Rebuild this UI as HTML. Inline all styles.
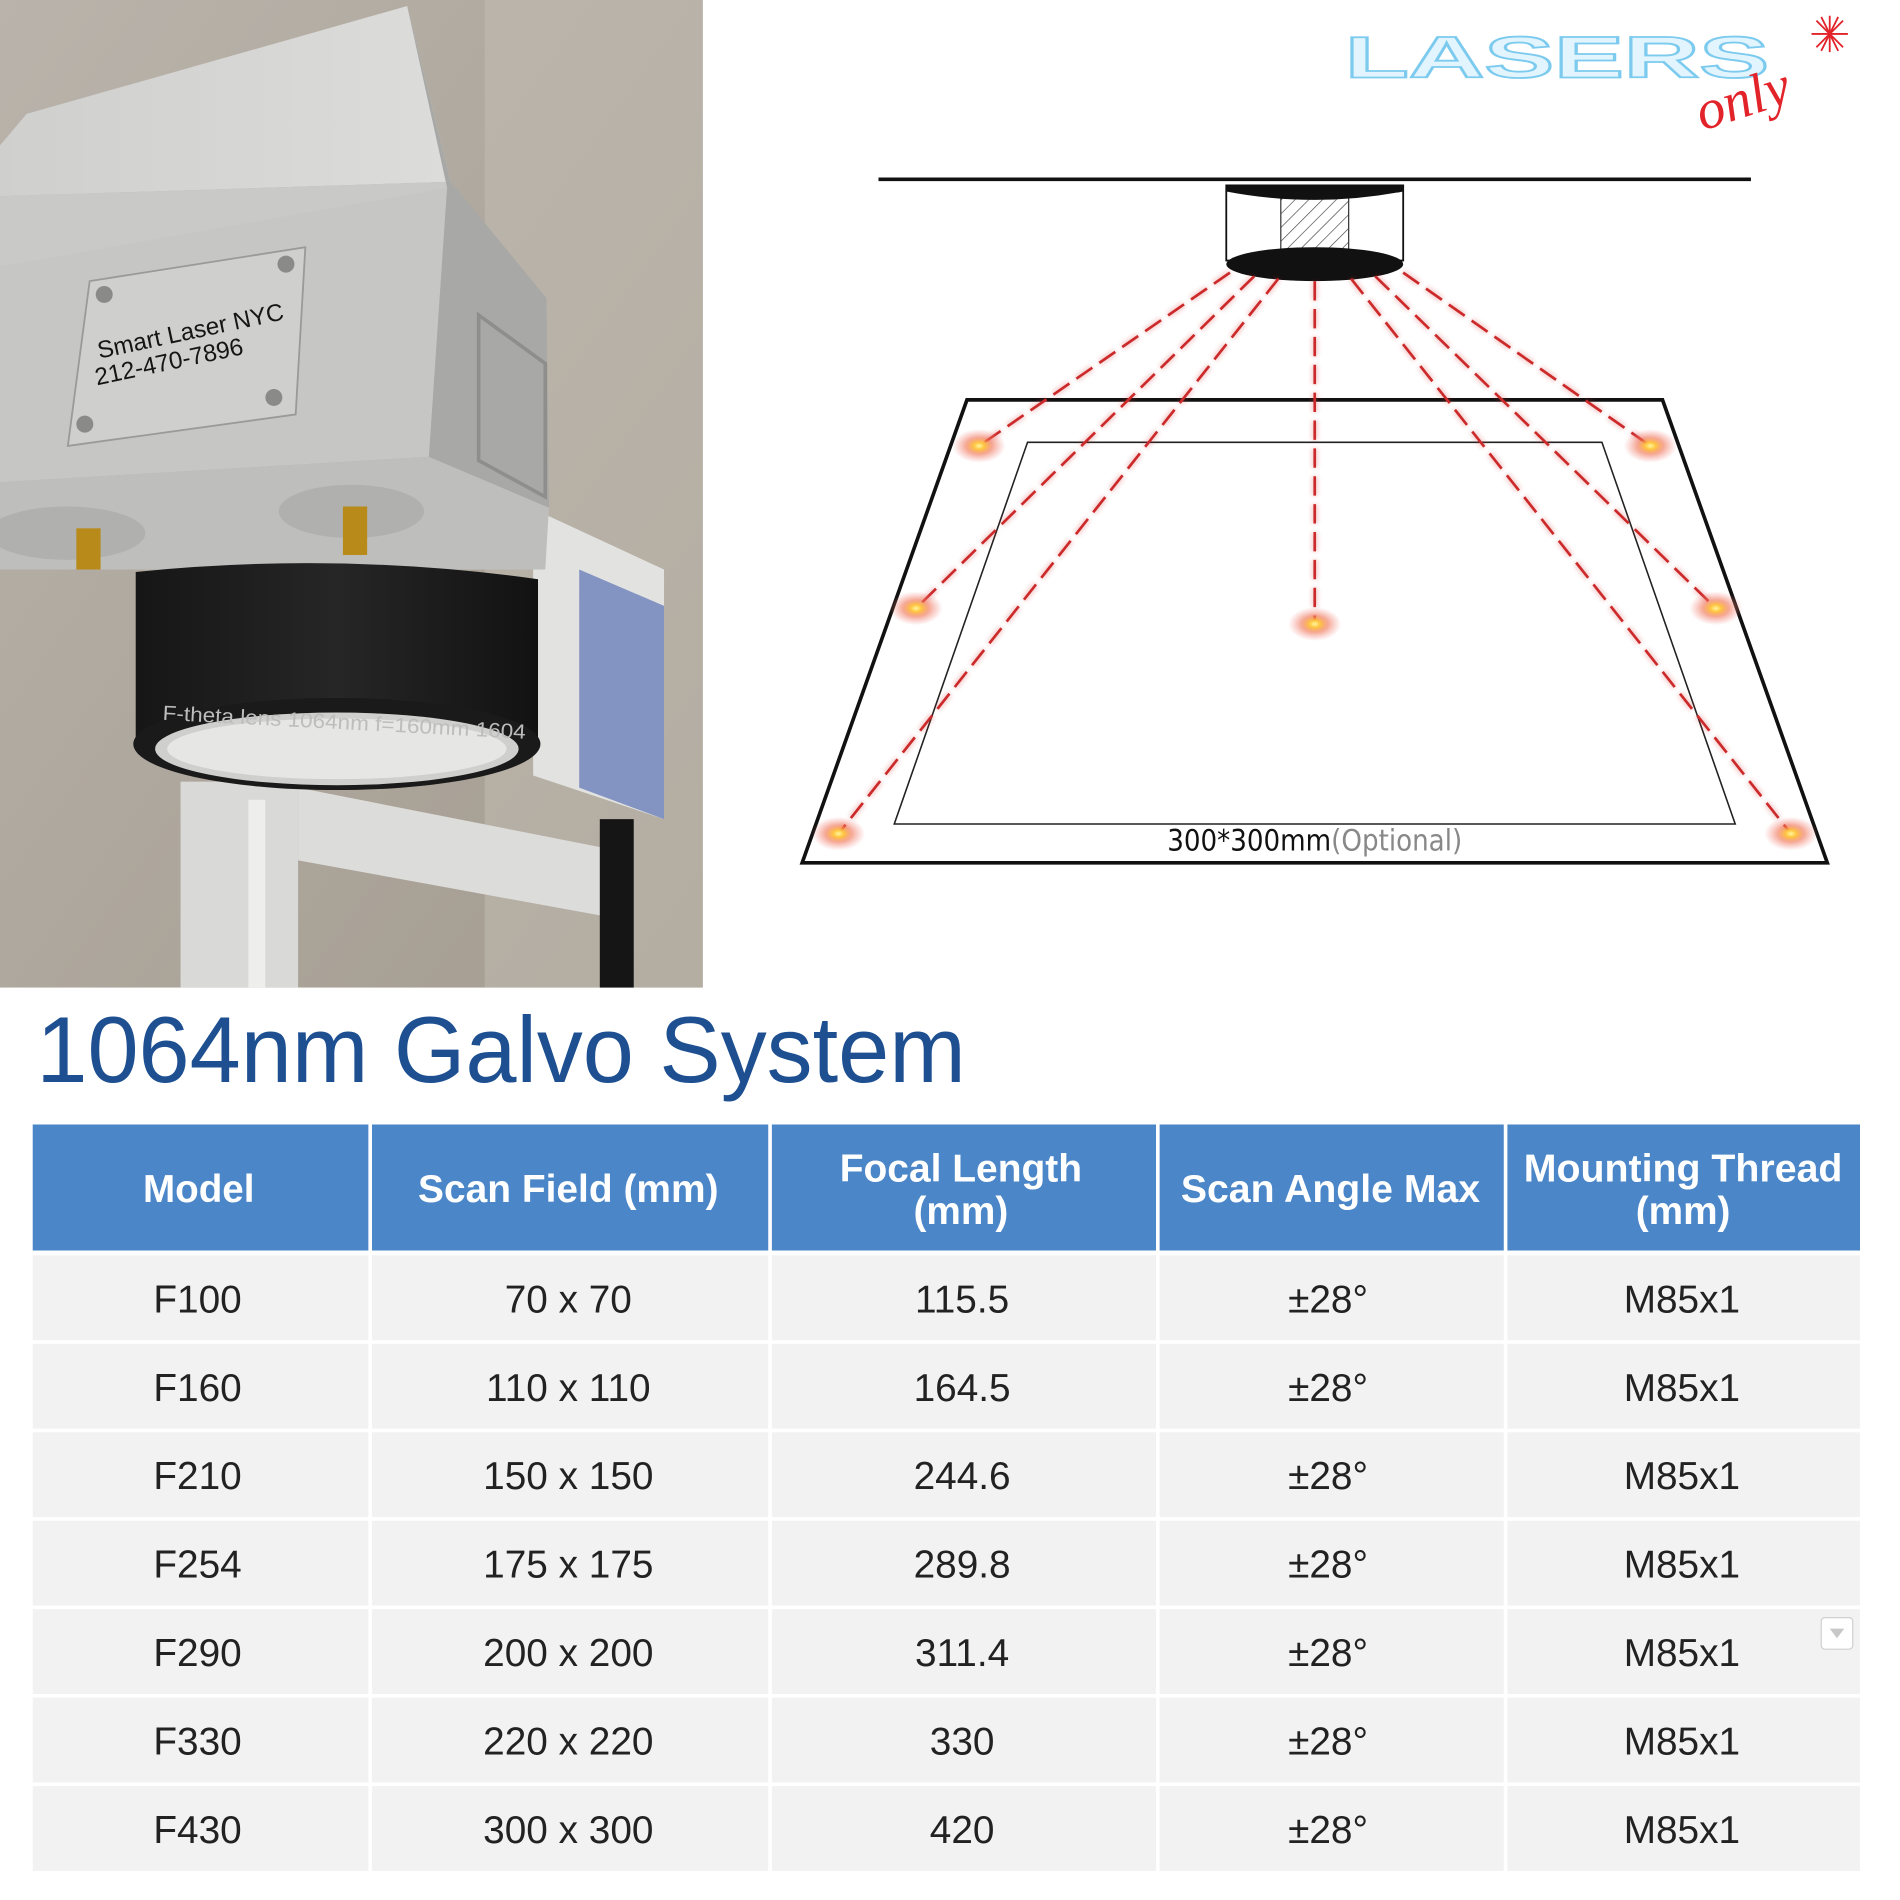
<!DOCTYPE html>
<html><head><meta charset="utf-8"><style>
html,body{margin:0;padding:0;background:#fff;}
svg{display:block;}
</style></head><body>
<svg width="1900" height="1900" viewBox="0 0 1568 1568" xmlns="http://www.w3.org/2000/svg" font-family="Liberation Sans, sans-serif">
<defs>
<linearGradient id="wall" x1="0" y1="0" x2="1" y2="1"><stop offset="0" stop-color="#b9b3ab"/><stop offset="1" stop-color="#a49c90"/></linearGradient>
<linearGradient id="lid" x1="0" y1="0" x2="1" y2="0"><stop offset="0" stop-color="#cfcfcd"/><stop offset="1" stop-color="#dcdcda"/></linearGradient>
<linearGradient id="lens" x1="0" y1="0" x2="1" y2="0"><stop offset="0" stop-color="#161616"/><stop offset="0.5" stop-color="#262626"/><stop offset="1" stop-color="#121212"/></linearGradient>
<radialGradient id="spot"><stop offset="0" stop-color="#fff7a0"/><stop offset="0.2" stop-color="#ffc640"/><stop offset="0.5" stop-color="#f07050" stop-opacity="0.6"/><stop offset="1" stop-color="#f08080" stop-opacity="0"/></radialGradient>
<pattern id="hatch" width="8" height="8" patternUnits="userSpaceOnUse" patternTransform="rotate(45)"><line x1="0" y1="0" x2="0" y2="8" stroke="#333" stroke-width="1"/></pattern>
<filter id="blur"><feGaussianBlur stdDeviation="2"/></filter>
</defs>

<rect x="0" y="0" width="580" height="815" fill="url(#wall)"/>
<rect x="400" y="0" width="180" height="815" fill="#c3bdb4" opacity="0.5"/>
<polygon points="149,645 246,645 246,815 149,815" fill="#d9d9d7"/>
<rect x="205" y="660" width="14" height="155" fill="#eeeeec"/>
<polygon points="246,650 500,700 520,760 246,710" fill="#dcdcda"/>
<polygon points="440,420 548,470 548,676 440,640" fill="#e2e2e0"/>
<polygon points="478,470 548,500 548,676 478,650" fill="#8393c2"/>
<rect x="495" y="676" width="28" height="139" fill="#151515"/>
<polygon points="22,94 336,5 372,150 0,162 0,120" fill="url(#lid)"/>
<polygon points="0,220 0,162 372,150 369,160" fill="#c9c9c7"/>
<polygon points="0,220 369,155 354,377 0,398" fill="#c6c6c4"/>
<polygon points="336,5 372,150 451,246 453,419 354,377 369,155" fill="#a8a8a6"/>
<polygon points="395,260 450,300 450,410 395,380" fill="none" stroke="#8e8e8c" stroke-width="3"/>
<polygon points="0,398 354,377 453,419 450,470 0,470" fill="#bebebc"/>
<ellipse cx="55" cy="440" rx="65" ry="22" fill="#b0b0ae"/>
<ellipse cx="290" cy="422" rx="60" ry="22" fill="#b0b0ae"/>
<rect x="63" y="436" width="20" height="34" fill="#b88a1a"/>
<rect x="283" y="418" width="20" height="40" fill="#b88a1a"/>
<polygon points="74,232 252,204 244,342 56,368" fill="#cfcfcd" stroke="#9a9a98" stroke-width="1.5"/>
<circle cx="86" cy="243" r="7" fill="#8a8a88"/><circle cx="236" cy="218" r="7" fill="#8a8a88"/>
<circle cx="70" cy="350" r="7" fill="#8a8a88"/><circle cx="226" cy="328" r="7" fill="#8a8a88"/>
<text x="82" y="296" font-size="20" fill="#151515" transform="rotate(-12 82 296)">Smart Laser NYC</text>
<text x="80" y="318" font-size="20" fill="#151515" transform="rotate(-12 80 318)">212-470-7896</text>
<path d="M112,472 Q280,455 444,478 L444,612 L112,612 Z" fill="url(#lens)"/>
<ellipse cx="278" cy="614" rx="168" ry="38" fill="#1a1a1a"/>
<ellipse cx="278" cy="618" rx="150" ry="30" fill="#cfcfcd"/>
<ellipse cx="278" cy="618" rx="140" ry="25" fill="#e6e6e4"/>
<text x="134" y="594" font-size="17" fill="#bdbdbd" transform="rotate(3 134 594)" textLength="300" lengthAdjust="spacingAndGlyphs">F-theta  lens 1064nm  f=160mm 1604</text>

<text x="1110" y="64" font-size="48" font-weight="bold" fill="#e2f4fd" stroke="#7ccbef" stroke-width="1.5" textLength="350" lengthAdjust="spacingAndGlyphs">LASERS</text>
<text x="1405" y="108" font-size="46" font-style="italic" font-family="Liberation Serif, serif" fill="#e2232a" transform="rotate(-18 1405 108)">only</text>
<g stroke="#e2232a" stroke-width="1.5">
<line x1="1495" y1="28" x2="1525" y2="28"/><line x1="1510" y1="13" x2="1510" y2="43"/>
<line x1="1499" y1="17" x2="1521" y2="39"/><line x1="1521" y1="17" x2="1499" y2="39"/>
<line x1="1503" y1="14" x2="1517" y2="42"/><line x1="1517" y1="14" x2="1503" y2="42"/>
</g>

<line x1="725" y1="148" x2="1445" y2="148" stroke="#111" stroke-width="3"/>
<polygon points="798,330 1372,330 1508,712 662,712" fill="none" stroke="#111" stroke-width="3"/>
<polygon points="848,365 1322,365 1432,680 738,680" fill="none" stroke="#222" stroke-width="1.3"/>
<rect x="1012" y="153" width="146" height="62" fill="#fff" stroke="#111" stroke-width="1.5"/>
<rect x="1057" y="163" width="56" height="46" fill="url(#hatch)" stroke="#333" stroke-width="1"/>
<path d="M1012,153 L1158,153 L1158,158 Q1085,172 1012,158 Z" fill="#111"/>
<ellipse cx="1085" cy="218" rx="73" ry="14" fill="#111"/>
<g stroke="#d93030" stroke-width="5" opacity="0.25" filter="url(#blur)" stroke-dasharray="16 7">
<line x1="1015" y1="225" x2="808" y2="368"/><line x1="1035" y1="228" x2="756" y2="502"/><line x1="1055" y1="230" x2="692" y2="688"/>
<line x1="1085" y1="232" x2="1085" y2="515"/>
<line x1="1158" y1="225" x2="1362" y2="368"/><line x1="1135" y1="228" x2="1416" y2="502"/><line x1="1115" y1="230" x2="1478" y2="688"/>
</g>
<g stroke="#cc2a2a" stroke-width="2.2" stroke-dasharray="16 7">
<line x1="1015" y1="225" x2="808" y2="368"/><line x1="1035" y1="228" x2="756" y2="502"/><line x1="1055" y1="230" x2="692" y2="688"/>
<line x1="1085" y1="232" x2="1085" y2="515"/>
<line x1="1158" y1="225" x2="1362" y2="368"/><line x1="1135" y1="228" x2="1416" y2="502"/><line x1="1115" y1="230" x2="1478" y2="688"/>
</g>
<g fill="url(#spot)">
<ellipse cx="808" cy="368" rx="22" ry="14"/><ellipse cx="1362" cy="368" rx="22" ry="14"/>
<ellipse cx="756" cy="502" rx="22" ry="14"/><ellipse cx="1416" cy="502" rx="22" ry="14"/>
<ellipse cx="1085" cy="515" rx="22" ry="14"/><ellipse cx="692" cy="688" rx="22" ry="14"/><ellipse cx="1478" cy="688" rx="22" ry="14"/>
</g>
<text x="1085" y="702" font-size="24" text-anchor="middle" fill="#111" font-family="DejaVu Sans Condensed, Liberation Sans, sans-serif">300*300mm<tspan fill="#888">(Optional)</tspan></text>

<text x="30" y="893" font-size="77" fill="#1d4f91" textLength="767" lengthAdjust="spacingAndGlyphs">1064nm Galvo System</text>

<g fill="#4a86c8">
<rect x="27" y="928" width="277" height="104"/><rect x="307" y="928" width="327" height="104"/>
<rect x="637" y="928" width="317" height="104"/><rect x="957" y="928" width="284" height="104"/>
<rect x="1244" y="928" width="291" height="104"/>
</g>
<g fill="#fff" font-weight="bold" font-size="32" text-anchor="middle">
<text x="164" y="992" textLength="92" lengthAdjust="spacingAndGlyphs">Model</text>
<text x="469" y="992" textLength="248" lengthAdjust="spacingAndGlyphs">Scan Field (mm)</text>
<text x="793" y="975" textLength="200" lengthAdjust="spacingAndGlyphs">Focal Length</text>
<text x="793" y="1010">(mm)</text>
<text x="1098" y="992" textLength="247" lengthAdjust="spacingAndGlyphs">Scan Angle Max</text>
<text x="1389" y="975" textLength="263" lengthAdjust="spacingAndGlyphs">Mounting Thread</text>
<text x="1389" y="1010">(mm)</text>
</g>
<g fill="#f2f2f2">
<g id="r"><rect x="27" y="1036" width="277" height="70"/><rect x="307" y="1036" width="327" height="70"/><rect x="637" y="1036" width="317" height="70"/><rect x="957" y="1036" width="284" height="70"/><rect x="1244" y="1036" width="291" height="70"/></g>
<use href="#r" y="73"/><use href="#r" y="146"/><use href="#r" y="219"/><use href="#r" y="292"/><use href="#r" y="365"/><use href="#r" y="438"/>
</g>
<g fill="#222" font-size="32" text-anchor="middle">
<text x="163" y="1083">F100</text><text x="469" y="1083">70 x 70</text><text x="794" y="1083">115.5</text><text x="1096" y="1083">±28°</text><text x="1388" y="1083">M85x1</text>
<text x="163" y="1156">F160</text><text x="469" y="1156">110 x 110</text><text x="794" y="1156">164.5</text><text x="1096" y="1156">±28°</text><text x="1388" y="1156">M85x1</text>
<text x="163" y="1229">F210</text><text x="469" y="1229">150 x 150</text><text x="794" y="1229">244.6</text><text x="1096" y="1229">±28°</text><text x="1388" y="1229">M85x1</text>
<text x="163" y="1302">F254</text><text x="469" y="1302">175 x 175</text><text x="794" y="1302">289.8</text><text x="1096" y="1302">±28°</text><text x="1388" y="1302">M85x1</text>
<text x="163" y="1375">F290</text><text x="469" y="1375">200 x 200</text><text x="794" y="1375">311.4</text><text x="1096" y="1375">±28°</text><text x="1388" y="1375">M85x1</text>
<text x="163" y="1448">F330</text><text x="469" y="1448">220 x 220</text><text x="794" y="1448">330</text><text x="1096" y="1448">±28°</text><text x="1388" y="1448">M85x1</text>
<text x="163" y="1521">F430</text><text x="469" y="1521">300 x 300</text><text x="794" y="1521">420</text><text x="1096" y="1521">±28°</text><text x="1388" y="1521">M85x1</text>
</g>
<rect x="1503" y="1335" width="26" height="26" rx="3" fill="#fff" stroke="#d0d0d0"/>
<polygon points="1510,1344 1522,1344 1516,1352" fill="#c8c8c8"/>
</svg>
</body></html>
